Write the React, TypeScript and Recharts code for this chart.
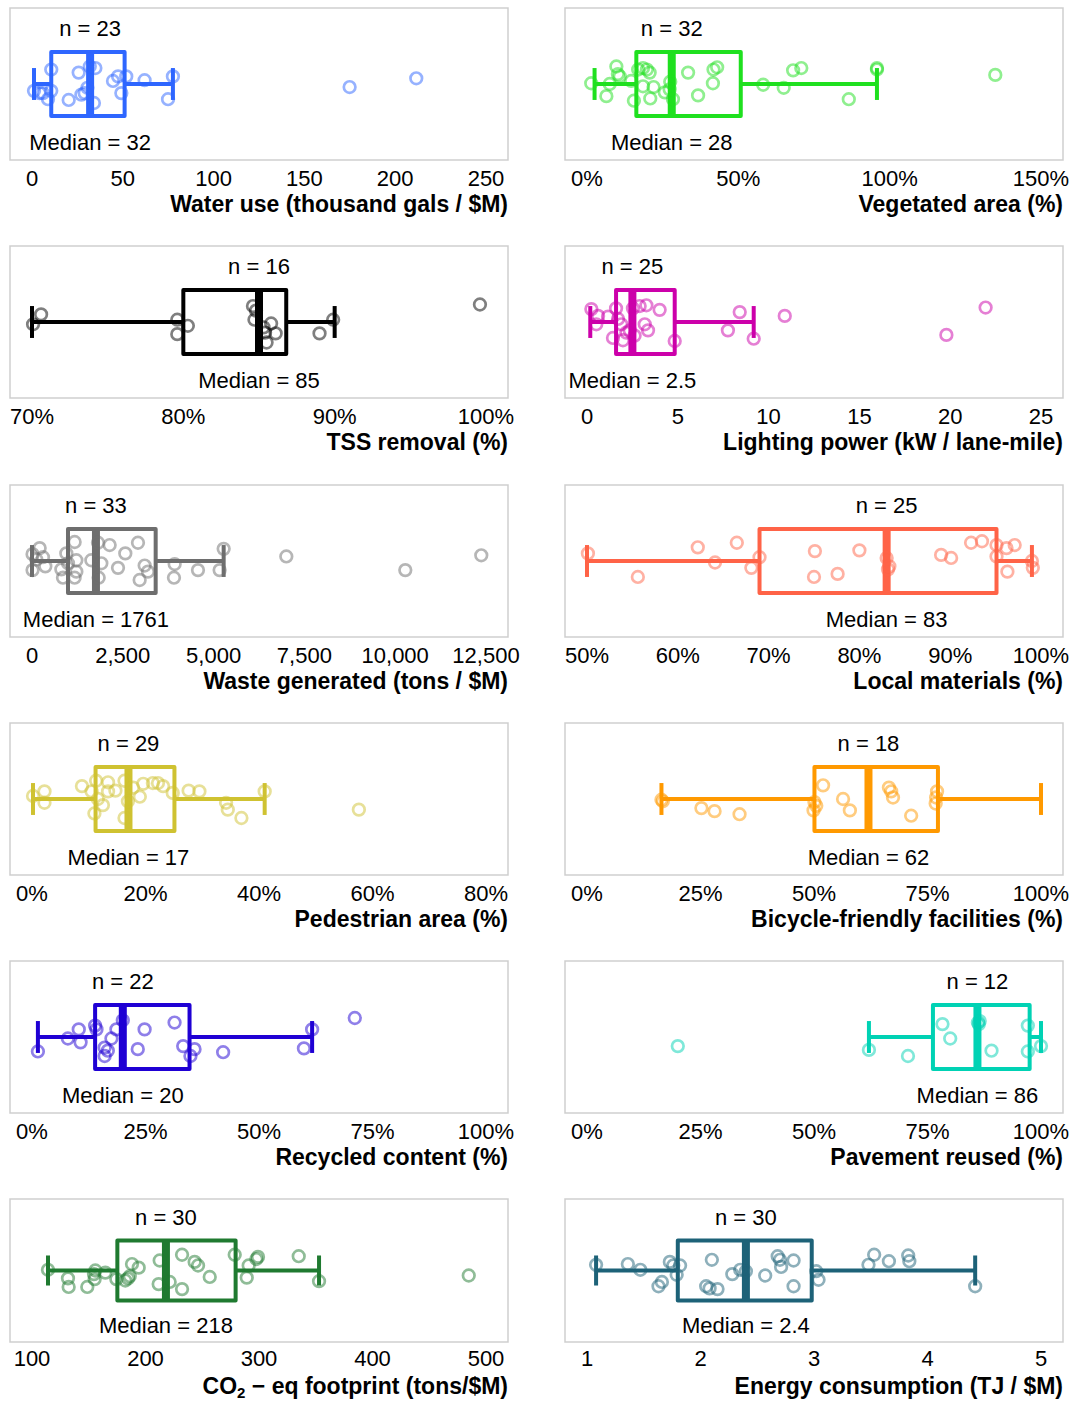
import {
  ComposedChart,
  XAxis,
  YAxis,
  Scatter,
  ReferenceArea,
  ReferenceLine,
  ReferenceDot,
} from "recharts";

const FONT = '"Liberation Sans", Arial, Helvetica, sans-serif';

// each box: [lower whisker, q1, median, q3, upper whisker]
// each point: [value, vertical jitter in -1..1]

const waterTicks = [0, 50, 100, 150, 200, 250];
const waterBox = [1.1, 10.6, 32, 51.0, 77.6];
const waterPts = [
  [1.1, -0.09], [4.2, -0.12], [6.0, -0.12], [8.8, -0.2], [10.6, 0.19], [10.6, -0.09],
  [20.2, -0.21], [25.7, 0.15], [27.2, -0.14], [29.0, -0.12], [31.8, 0.23], [34.9, 0.21],
  [34.1, -0.25], [44.6, 0.04], [47.4, 0.1], [51.9, 0.1], [49.2, -0.12], [62.0, 0.05],
  [77.6, 0.1], [74.9, -0.2], [174.9, -0.04], [211.6, 0.075], [30.5, -0.05],
];

const vegTicks = [0, 50, 100, 150];
const vegBox = [2.5, 16.3, 28, 50.8, 95.8];
const vegPts = [
  [1.4, 0.01], [6.4, -0.16], [7.5, 0], [9.7, 0.23], [10.8, 0.1], [10.2, 0.13], [14.6, 0.04],
  [15.5, -0.22], [16.9, 0.19], [18.5, -0.03], [19.8, 0.19], [20.7, 0.15], [20.9, -0.19],
  [22.0, -0.04], [25.7, -0.11], [27.5, 0.03], [28.4, -0.2], [33.4, 0.15], [36.7, -0.15],
  [41.6, 0.01], [41.8, 0.19], [43.0, 0.22], [58.2, -0.01], [65.0, -0.05], [68.1, 0.18],
  [70.8, 0.21], [86.5, -0.2], [95.8, 0.21], [95.8, 0.19], [134.9, 0.12], [18.5, 0.21],
  [27.3, -0.07],
];

const tssTicks = [70, 80, 90, 100];
const tssBox = [70, 80.0, 85, 86.8, 90.0];
const tssPts = [
  [70.07, -0.03], [70.6, 0.1], [79.6, 0.03], [80.3, -0.05], [79.6, -0.16], [84.6, 0.21],
  [84.7, 0.03], [84.8, 0.15], [85.3, -0.07], [85.4, -0.14], [85.8, -0.02], [85.5, -0.27],
  [86.1, -0.15], [89.0, -0.15], [89.9, 0.03], [99.6, 0.23],
];

const lightTicks = [0, 5, 10, 15, 20, 25];
const lightBox = [0.18, 1.6, 2.5, 4.83, 9.18];
const lightPts = [
  [0.24, 0.17], [0.51, -0.03], [0.61, 0.08], [1.16, 0.07], [1.43, -0.21], [1.6, 0.18],
  [1.71, 0.04], [1.89, -0.03], [1.98, -0.24], [2.17, -0.14], [2.35, -0.11], [2.53, 0.18],
  [2.62, -0.18], [2.9, 0.21], [3.18, -0.03], [3.27, 0.22], [3.36, -0.11], [4.0, 0.16],
  [4.83, -0.25], [7.76, -0.11], [8.41, 0.13], [9.18, -0.22], [10.89, 0.08], [19.79, -0.17],
  [21.95, 0.19],
];

const wasteTicks = [0, 2500, 5000, 7500, 10000, 12500];
const wasteBox = [0, 991, 1761, 3405, 5277];
const wastePts = [
  [15, 0.09], [15, -0.12], [211, 0.17], [303, 0.05], [367, -0.07], [945, 0.1], [853, -0.22],
  [1174, 0.25], [1221, 0.01], [1221, -0.14], [1174, -0.22], [1634, 0.01], [1836, -0.22],
  [1909, -0.03], [2138, 0.21], [2368, -0.09], [2569, 0.1], [2918, 0.24], [3102, -0.06],
  [3193, -0.14], [2964, -0.25], [3928, -0.04], [3909, -0.22], [4570, -0.12], [5166, -0.12],
  [5277, 0.16], [7002, 0.06], [10278, -0.12], [12370, 0.075], [991, -0.03], [1817, 0.24],
  [119, 0.02], [808, -0.11],
];

const localTicks = [50, 60, 70, 80, 90, 100];
const localBox = [50.0, 69.0, 83, 95.1, 99.0];
const localPts = [
  [50.1, 0.1], [55.6, -0.21], [62.2, 0.18], [64.1, -0.02], [66.5, 0.24], [68.1, -0.09],
  [69.0, 0.05], [75.1, 0.13], [75.0, -0.21], [77.6, -0.17], [80.0, 0.14], [83.0, 0.04],
  [83.15, -0.11], [89.0, 0.08], [90.1, 0.04], [92.3, 0.24], [93.5, 0.26], [95.1, 0.21],
  [95.1, 0.06], [96.2, 0.17], [97.1, 0.21], [96.3, -0.14], [99.0, 0], [99.1, -0.09],
  [83.3, -0.07],
];

const pedTicks = [0, 20, 40, 60, 80];
const pedBox = [0.18, 11.2, 17, 25.1, 41.0];
const pedPts = [
  [0.18, 0.04], [2.2, 0.1], [2.2, -0.05], [8.8, 0.17], [10.5, 0.1], [11.3, 0.24], [11.0, -0.19],
  [12.5, -0.08], [13.4, 0.22], [13.4, 0.1], [14.7, 0.11], [16.3, 0.24], [16.3, -0.25],
  [16.9, -0.03], [19.0, 0.03], [19.6, 0.2], [21.3, 0.21], [22.2, 0.21], [23.1, 0.17],
  [24.8, 0.08], [27.6, 0.11], [29.5, 0.1], [34.2, -0.05], [34.5, -0.14], [36.9, -0.25],
  [41.0, 0.1], [57.6, -0.14], [11.6, 0], [17.8, 0.15],
];

const bikeTicks = [0, 25, 50, 75, 100];
const bikeBox = [16.4, 50.1, 62, 77.3, 100];
const bikePts = [
  [16.4, -0.01], [25.2, -0.12], [28.1, -0.16], [33.6, -0.2], [50.1, -0.04], [49.9, -0.15],
  [52.0, 0.18], [56.4, 0], [57.9, -0.15], [66.5, 0.15], [67.4, 0.02], [71.4, -0.22],
  [77.1, 0.1], [76.8, -0.06], [50.5, -0.09], [67.0, 0.1], [76.9, 0.02], [16.7, -0.03],
];

const recycTicks = [0, 25, 50, 75, 100];
const recycBox = [1.3, 13.9, 20, 34.7, 61.7];
const recycPts = [
  [1.3, -0.19], [7.9, -0.02], [10.3, 0.1], [10.7, -0.07], [13.9, 0.15], [14.2, 0.1],
  [16.0, -0.14], [16.0, -0.25], [17.5, -0.02], [18.6, 0.1], [20.0, 0.22], [23.3, -0.16],
  [24.8, 0.1], [31.4, 0.19], [33.3, -0.12], [35.8, -0.16], [34.9, -0.25], [42.1, -0.2],
  [59.9, -0.15], [61.7, 0.1], [71.1, 0.25], [16.7, -0.18],
];

const paveTicks = [0, 25, 50, 75, 100];
const paveBox = [62.1, 76.2, 86, 97.5, 100];
const pavePts = [
  [20.0, -0.12], [62.1, -0.17], [70.7, -0.25], [78.3, 0.17], [80.0, -0.02], [86.1, 0.19],
  [86.3, 0.17], [89.1, -0.18], [97.1, 0.15], [97.1, -0.19], [100, -0.12], [86.5, 0.21],
];

const co2Ticks = [100, 200, 300, 400, 500];
const co2Box = [114.1, 175.2, 218, 279.4, 352.9];
const co2Pts = [
  [114.1, 0.01], [131.7, -0.11], [132.3, -0.23], [148.7, -0.23], [154.6, -0.05],
  [155.2, -0.12], [164.6, -0.03], [174.3, -0.12], [182.2, -0.14], [186.1, -0.08],
  [188.1, 0.09], [194.0, 0.04], [212.5, 0.14], [211.6, -0.19], [221.3, -0.16], [232.2, 0.22],
  [232.2, -0.26], [243.3, 0.12], [246.3, 0.07], [256.6, -0.09], [278.6, 0.22], [290.9, 0.07],
  [289.2, -0.1], [297.7, 0.16], [299.1, 0.19], [335.0, 0.2], [352.9, -0.15], [484.8, -0.07],
  [155.8, 0], [184.6, -0.11],
];

const energyTicks = [1, 2, 3, 4, 5];
const energyBox = [1.08, 1.8, 2.4, 2.98, 4.42];
const energyPts = [
  [1.08, 0.08], [1.36, 0.09], [1.47, 0.01], [1.63, -0.22], [1.66, -0.16], [1.73, 0.12],
  [1.76, 0.07], [1.82, 0.07], [1.79, -0.06], [2.1, 0.15], [2.05, -0.22], [2.08, -0.25],
  [2.15, -0.26], [2.28, -0.05], [2.4, -0.01], [2.57, -0.07], [2.68, 0.2], [2.7, 0.15],
  [2.71, 0.05], [2.82, 0.14], [2.82, -0.22], [3.02, -0.01], [3.04, -0.13], [3.48, 0.08],
  [3.53, 0.22], [3.66, 0.13], [3.83, 0.21], [3.84, 0.13], [4.42, -0.22], [2.35, 0.01],
];

const plain = (v: number) => `${v}`;
const pct = (v: number) => `${v}%`;
const comma = (v: number) => v.toLocaleString("en-US");

const panels = [
  { title: "Water use (thousand gals / $M)", ticks: waterTicks, box: waterBox, pts: waterPts, color: "#2e66ff", fmt: plain },
  { title: "Vegetated area (%)", ticks: vegTicks, box: vegBox, pts: vegPts, color: "#1fe01f", fmt: pct },
  { title: "TSS removal (%)", ticks: tssTicks, box: tssBox, pts: tssPts, color: "#000000", fmt: pct },
  { title: "Lighting power (kW / lane-mile)", ticks: lightTicks, box: lightBox, pts: lightPts, color: "#cc00aa", fmt: plain },
  { title: "Waste generated (tons / $M)", ticks: wasteTicks, box: wasteBox, pts: wastePts, color: "#6e6e6e", fmt: comma },
  { title: "Local materials (%)", ticks: localTicks, box: localBox, pts: localPts, color: "#ff6347", fmt: pct },
  { title: "Pedestrian area (%)", ticks: pedTicks, box: pedBox, pts: pedPts, color: "#cfc231", fmt: pct },
  { title: "Bicycle-friendly facilities (%)", ticks: bikeTicks, box: bikeBox, pts: bikePts, color: "#ff9900", fmt: pct },
  { title: "Recycled content (%)", ticks: recycTicks, box: recycBox, pts: recycPts, color: "#1f00d4", fmt: pct },
  { title: "Pavement reused (%)", ticks: paveTicks, box: paveBox, pts: pavePts, color: "#00d2b4", fmt: pct },
  { title: "co2", ticks: co2Ticks, box: co2Box, pts: co2Pts, color: "#1f7a30", fmt: plain },
  { title: "Energy consumption (TJ / $M)", ticks: energyTicks, box: energyBox, pts: energyPts, color: "#1d6278", fmt: plain },
];

const frameTops = [8, 246, 485, 723, 961, 1199];
const frameLefts = [10, 565];

// axis title, right-aligned to the frame, baseline `lift` px above the axis box bottom
const makeTitle = (title: string, lift: number) => (props: any) => {
  const vb = props.viewBox;
  const common = {
    x: vb.x + vb.width,
    y: vb.y + vb.height - lift,
    textAnchor: "end" as const,
    fontSize: 23,
    fontWeight: "bold",
    fontFamily: FONT,
    fill: "#000",
  };
  if (title === "co2") {
    return (
      <text {...common}>
        CO
        <tspan fontSize={15} dy={4}>2</tspan>
        <tspan dy={-4}>{"\u00a0\u2212 eq footprint (tons/$M)"}</tspan>
      </text>
    );
  }
  return <text {...common}>{title}</text>;
};

function Panel({ cfg, left, top, last }: any) {
  const t0 = cfg.ticks[0];
  const tN = cfg.ticks[cfg.ticks.length - 1];
  const pad = ((tN - t0) * 22) / 454;
  const domain = [t0 - pad, tN + pad];
  const [lo, q1, med, q3, hi] = cfg.box;
  const data = cfg.pts.map(([v, j]: number[]) => ({ v, j }));
  const h = last ? 143 : 152;
  const axisH = 60;
  const lift = last ? 8 : 8;
  const rightM = left < 100 ? 40 : 10;
  const c = cfg.color;
  const bh = 0.42;
  const cap = 0.21;

  return (
    <div style={{ position: "absolute", left: left - 2, top: top - 2 }}>
      <ComposedChart
        width={2 + 498 + rightM}
        height={2 + h + axisH}
        margin={{ top: 2, right: rightM, bottom: 0, left: 2 }}
      >
        <XAxis
          type="number"
          dataKey="v"
          domain={domain}
          allowDataOverflow
          ticks={cfg.ticks}
          interval={0}
          tickFormatter={cfg.fmt}
          axisLine={false}
          tickLine={false}
          tickMargin={last ? 2 : 4}
          height={axisH}
          tick={{ fontSize: 22, fill: "#000", fontFamily: FONT }}
          label={{ content: makeTitle(cfg.title, lift), position: "insideBottomRight", offset: 0 }}
        />
        <YAxis type="number" dataKey="j" domain={[-1, 1]} allowDataOverflow hide />
        <ReferenceArea
          x1={domain[0]}
          x2={domain[1]}
          y1={-1}
          y2={1}
          fill="none"
          stroke="#cfcfcf"
          strokeWidth={1.5}
          ifOverflow="visible"
        />
        <ReferenceLine segment={[{ x: lo, y: 0 }, { x: q1, y: 0 }]} stroke={c} strokeWidth={4} ifOverflow="visible" />
        <ReferenceLine segment={[{ x: q3, y: 0 }, { x: hi, y: 0 }]} stroke={c} strokeWidth={4} ifOverflow="visible" />
        <ReferenceLine segment={[{ x: lo, y: -cap }, { x: lo, y: cap }]} stroke={c} strokeWidth={4} ifOverflow="visible" />
        <ReferenceLine segment={[{ x: hi, y: -cap }, { x: hi, y: cap }]} stroke={c} strokeWidth={4} ifOverflow="visible" />
        <ReferenceArea
          x1={q1}
          x2={q3}
          y1={-bh}
          y2={bh}
          fill="none"
          fillOpacity={0}
          stroke={c}
          strokeWidth={4}
          strokeLinejoin="round"
          ifOverflow="visible"
        />
        <ReferenceLine segment={[{ x: med, y: -bh }, { x: med, y: bh }]} stroke={c} strokeWidth={8} ifOverflow="visible" />
        <Scatter
          data={data}
          dataKey="j"
          isAnimationActive={false}
          shape={(p: any) => (
            <circle
              cx={p.cx}
              cy={p.cy}
              r={5.8}
              fill="none"
              stroke={c}
              strokeOpacity={0.5}
              strokeWidth={2.7}
            />
          )}
        />
        <ReferenceDot
          x={med}
          y={0.74}
          r={0}
          fill="none"
          stroke="none"
          ifOverflow="visible"
          label={{ value: `n = ${cfg.pts.length}`, position: "center", fontSize: 22, fill: "#000", fontFamily: FONT }}
        />
        <ReferenceDot
          x={med}
          y={-0.77}
          r={0}
          fill="none"
          stroke="none"
          ifOverflow="visible"
          label={{ value: `Median = ${med}`, position: "center", fontSize: 22, fill: "#000", fontFamily: FONT }}
        />
      </ComposedChart>
    </div>
  );
}

export default function App() {
  // fixed layer at page coordinates, so nothing scrolls or gets cut at the window edge
  return (
    <div style={{ position: "fixed", left: 0, top: 0, width: 1075, height: 1402, fontFamily: FONT, background: "#fff" }}>
      {panels.map((cfg, i) => (
        <Panel
          key={i}
          cfg={cfg}
          left={frameLefts[i % 2]}
          top={frameTops[Math.floor(i / 2)]}
          last={i >= 10}
        />
      ))}
    </div>
  );
}
